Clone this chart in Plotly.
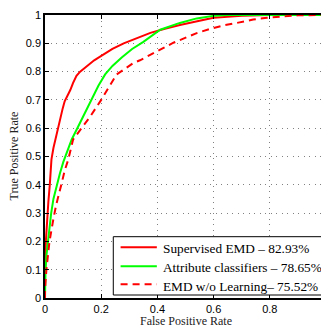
import plotly.graph_objects as go

# Supervised EMD
sup_fpr = [0, 0, 0.003, 0.007, 0.012, 0.017, 0.023, 0.03, 0.037, 0.045, 0.055, 0.063, 0.07, 0.078,
           0.09, 0.1, 0.112, 0.125, 0.15, 0.175, 0.196, 0.24, 0.28, 0.33, 0.375, 0.43, 0.48, 0.55,
           0.6, 0.7, 0.8, 1.0]
sup_tpr = [0, 0.08, 0.2, 0.28, 0.34, 0.4, 0.49, 0.53, 0.56, 0.6, 0.64, 0.67, 0.695, 0.71,
           0.735, 0.76, 0.785, 0.8, 0.82, 0.84, 0.853, 0.88, 0.9, 0.92, 0.937, 0.952, 0.965, 0.98,
           0.99, 0.997, 1.0, 1.0]

# Attribute classifiers
att_fpr = [0, 0, 0.002, 0.005, 0.01, 0.015, 0.022, 0.03, 0.042, 0.053, 0.065, 0.077, 0.095, 0.115,
           0.14, 0.166, 0.19, 0.214, 0.24, 0.273, 0.31, 0.35, 0.385, 0.41, 0.48, 0.54, 0.6, 0.65, 1.0]
att_tpr = [0, 0.07, 0.1, 0.15, 0.2, 0.25, 0.3, 0.35, 0.4, 0.44, 0.48, 0.51, 0.56, 0.6,
           0.65, 0.7, 0.75, 0.79, 0.82, 0.85, 0.88, 0.905, 0.93, 0.948, 0.972, 0.988, 0.997, 1.0, 1.0]

# EMD w/o Learning
emd_fpr = [0, 0, 0.005, 0.012, 0.016, 0.03, 0.04, 0.058, 0.07, 0.083, 0.1, 0.13, 0.16, 0.2, 0.225,
           0.255, 0.285, 0.314, 0.338, 0.374, 0.415, 0.457, 0.498, 0.54, 0.587, 0.635, 0.688, 0.741,
           0.79, 0.85, 0.9, 1.0]
emd_tpr = [0, 0.03, 0.1, 0.17, 0.2, 0.28, 0.33, 0.4, 0.45, 0.49, 0.56, 0.6, 0.64, 0.7, 0.74,
           0.79, 0.81, 0.83, 0.84, 0.86, 0.88, 0.902, 0.918, 0.936, 0.951, 0.963, 0.973, 0.984,
           0.99, 0.996, 0.999, 1.0]

names = ["Supervised EMD \u2013 82.93%", "Attribute classifiers \u2013 78.65%", "EMD w/o Learning\u2013 75.52%"]
colors = ["#ff0000", "#00ff00", "#ff0000"]
dashes = ["solid", "solid", "7px,5px"]
x_title = "False Positive Rate"
y_title = "True Positive Rate"

x_ticks = [0, 0.2, 0.4, 0.6, 0.8, 1]
x_ticktext = ["0", "0.2", "0.4", "0.6", "0.8", "1"]
y_ticks = [0, 0.1, 0.2, 0.3, 0.4, 0.5, 0.6, 0.7, 0.8, 0.9, 1]
y_ticktext = ["0", "0.1", "0.2", "0.3", "0.4", "0.5", "0.6", "0.7", "0.8", "0.9", "1"]

series = [(sup_fpr, sup_tpr), (att_fpr, att_tpr), (emd_fpr, emd_tpr)]

fig = go.Figure()
for (fx, ty), nm, c, d in zip(series, names, colors, dashes):
    fig.add_trace(go.Scatter(x=fx, y=ty, mode="lines", name=nm, showlegend=False,
                             line=dict(color=c, width=2, dash=d)))

axis_common = dict(
    range=[0, 1], showline=True, linecolor="black", linewidth=1.5, mirror="ticks",
    ticks="inside", ticklen=4, tickcolor="black", tickwidth=1,
    showgrid=True, gridcolor="#808080", griddash="1px,4.5px", gridwidth=1,
    zeroline=False, automargin=False, ticklabeloverflow="allow",
    tickfont=dict(family="Liberation Sans, Arial", size=11, color="black"),
)

fig.update_xaxes(**axis_common, tickvals=x_ticks, ticktext=x_ticktext)
fig.update_yaxes(**axis_common, tickvals=y_ticks, ticktext=y_ticktext)

title_font = dict(family="Liberation Serif, Times New Roman", size=12, color="#222222")
fig.add_annotation(text=x_title, xref="paper", yref="paper", x=0.5, y=0,
                   xanchor="center", yanchor="top", yshift=-14, showarrow=False, font=title_font)
fig.add_annotation(text=y_title, xref="paper", yref="paper", x=0, y=0.5,
                   xanchor="right", yanchor="middle", xshift=-23, textangle=-90,
                   showarrow=False, font=title_font)

# legend box (drawn in paper coordinates, bottom-right of the axes)
fig.add_shape(type="rect", xref="paper", yref="paper", x0=0.243, x1=0.989, y0=0.0106, y1=0.2166,
              line=dict(color="black", width=1), fillcolor="white", layer="above")
leg_line_y = [0.179, 0.112, 0.049]
leg_text_y = [0.176, 0.108, 0.042]
for nm, c, d, ly, tyy in zip(names, colors, dashes, leg_line_y, leg_text_y):
    fig.add_shape(type="line", xref="paper", yref="paper", x0=0.269, x1=0.398, y0=ly, y1=ly,
                  line=dict(color=c, width=2, dash=d), layer="above")
    fig.add_annotation(text=nm, xref="paper", yref="paper", x=0.412, y=tyy,
                       xanchor="left", yanchor="middle", showarrow=False,
                       font=dict(family="Liberation Serif, Times New Roman", size=13.3, color="black"))

# the page body adds an 8px offset, so the figure is sized to fit the window after it
fig.update_layout(
    width=321, height=319,
    margin=dict(l=37, r=3, t=7, b=29, autoexpand=False),
    paper_bgcolor="white", plot_bgcolor="white",
    showlegend=False,
)

fig.write_html("out.html")
